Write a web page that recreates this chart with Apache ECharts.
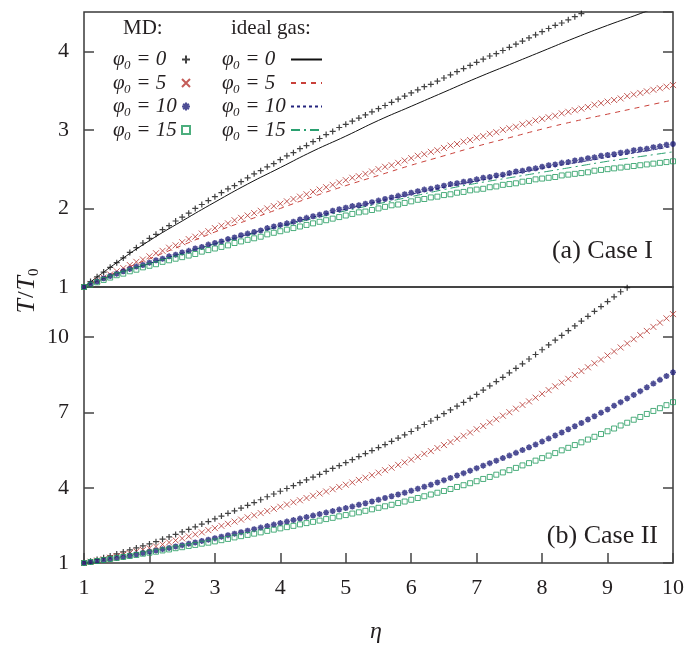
<!DOCTYPE html>
<html>
<head>
<meta charset="utf-8">
<script src="https://cdn.jsdelivr.net/npm/echarts@6.0.0/dist/echarts.min.js"></script>
<style>
  html, body { margin: 0; padding: 0; background: #fff; }
  #chart { width: 687px; height: 645px; }
</style>
</head>
<body>
<div id="chart"></div>
<script>
// eta grid of the MD samples (one point every 0.1)
const etaMD = [
  1.0,1.1,1.2,1.3,1.4,1.5,1.6,1.7,1.8,1.9,
  2.0,2.1,2.2,2.3,2.4,2.5,2.6,2.7,2.8,2.9,
  3.0,3.1,3.2,3.3,3.4,3.5,3.6,3.7,3.8,3.9,
  4.0,4.1,4.2,4.3,4.4,4.5,4.6,4.7,4.8,4.9,
  5.0,5.1,5.2,5.3,5.4,5.5,5.6,5.7,5.8,5.9,
  6.0,6.1,6.2,6.3,6.4,6.5,6.6,6.7,6.8,6.9,
  7.0,7.1,7.2,7.3,7.4,7.5,7.6,7.7,7.8,7.9,
  8.0,8.1,8.2,8.3,8.4,8.5,8.6,8.7,8.8,8.9,
  9.0,9.1,9.2,9.3,9.4,9.5,9.6,9.7,9.8,9.9,
  10.0
];
const etaIdeal = [1,1.5,2,2.5,3,3.5,4,4.5,5,5.5,6,6.5,7,7.5,8,8.5,9,9.5,10];

// (a) Case I, MD
const caseI_md0 = [
  1.00,1.07,1.13,1.19,1.25,1.31,1.37,1.44,1.50,1.56,
  1.62,1.67,1.73,1.78,1.84,1.89,1.94,2.00,2.05,2.10,
  2.15,2.20,2.25,2.29,2.34,2.39,2.44,2.48,2.53,2.57,
  2.62,2.67,2.71,2.76,2.80,2.85,2.89,2.94,2.98,3.03,
  3.07,3.11,3.15,3.19,3.23,3.27,3.31,3.35,3.39,3.43,
  3.47,3.51,3.55,3.58,3.62,3.66,3.70,3.74,3.78,3.82,
  3.86,3.90,3.94,3.97,4.01,4.05,4.09,4.13,4.17,4.21,
  4.25,4.29,4.33,4.36,4.40,4.44,4.48
];
const caseI_md5 = [
  1.00,1.04,1.08,1.12,1.16,1.20,1.24,1.28,1.32,1.35,
  1.39,1.43,1.46,1.50,1.53,1.57,1.61,1.64,1.68,1.71,
  1.75,1.78,1.81,1.85,1.88,1.91,1.94,1.97,2.00,2.03,
  2.06,2.09,2.12,2.15,2.18,2.21,2.24,2.27,2.30,2.33,
  2.36,2.39,2.41,2.44,2.47,2.50,2.53,2.55,2.58,2.61,
  2.64,2.67,2.69,2.72,2.74,2.77,2.80,2.82,2.85,2.87,
  2.90,2.92,2.95,2.97,3.00,3.02,3.04,3.07,3.09,3.12,
  3.14,3.16,3.18,3.21,3.23,3.25,3.27,3.29,3.32,3.34,
  3.36,3.38,3.40,3.43,3.45,3.47,3.49,3.51,3.53,3.55,
  3.57
];
const caseI_md10 = [
  1.00,1.04,1.07,1.11,1.14,1.17,1.20,1.23,1.26,1.28,
  1.31,1.34,1.36,1.39,1.41,1.44,1.46,1.49,1.51,1.54,
  1.56,1.58,1.61,1.63,1.66,1.68,1.70,1.72,1.75,1.77,
  1.79,1.81,1.83,1.86,1.88,1.90,1.92,1.94,1.97,1.99,
  2.01,2.03,2.04,2.06,2.08,2.10,2.12,2.14,2.16,2.18,
  2.20,2.22,2.24,2.25,2.27,2.29,2.31,2.32,2.34,2.35,
  2.37,2.39,2.40,2.42,2.43,2.45,2.47,2.48,2.50,2.51,
  2.53,2.55,2.56,2.58,2.59,2.61,2.62,2.64,2.65,2.67,
  2.68,2.69,2.71,2.72,2.74,2.75,2.76,2.78,2.79,2.81,
  2.82
];
const caseI_md15 = [
  1.00,1.03,1.06,1.09,1.12,1.15,1.17,1.20,1.22,1.25,
  1.27,1.29,1.32,1.34,1.36,1.38,1.40,1.42,1.45,1.47,
  1.49,1.51,1.53,1.56,1.58,1.60,1.62,1.64,1.67,1.69,
  1.71,1.73,1.75,1.77,1.79,1.81,1.83,1.85,1.87,1.89,
  1.91,1.93,1.95,1.96,1.98,2.00,2.02,2.04,2.05,2.07,
  2.09,2.11,2.12,2.14,2.15,2.17,2.18,2.20,2.21,2.23,
  2.24,2.25,2.27,2.28,2.30,2.31,2.32,2.34,2.35,2.37,
  2.38,2.39,2.40,2.42,2.43,2.44,2.45,2.46,2.48,2.49,
  2.50,2.51,2.52,2.53,2.54,2.55,2.56,2.57,2.58,2.59,
  2.60
];

// (a) Case I, ideal gas
const caseI_ig0  = [1.00,1.31,1.59,1.84,2.08,2.31,2.52,2.73,2.92,3.12,3.30,3.48,3.66,3.83,4.00,4.17,4.33,4.48,4.64];
const caseI_ig5  = [1.00,1.19,1.36,1.53,1.70,1.85,2.00,2.15,2.29,2.42,2.55,2.67,2.79,2.90,3.01,3.11,3.20,3.29,3.38];
const caseI_ig10 = [1.00,1.17,1.30,1.43,1.55,1.67,1.78,1.89,1.99,2.09,2.18,2.27,2.35,2.43,2.51,2.58,2.65,2.72,2.79];
const caseI_ig15 = [1.00,1.17,1.30,1.43,1.55,1.66,1.77,1.87,1.97,2.06,2.15,2.24,2.32,2.39,2.46,2.53,2.60,2.66,2.72];

// (b) Case II, MD
const caseII_md0 = [
  1.00,1.07,1.14,1.21,1.28,1.36,1.44,1.52,1.60,1.68,
  1.76,1.85,1.95,2.04,2.14,2.24,2.34,2.44,2.55,2.65,
  2.76,2.87,2.98,3.08,3.19,3.30,3.41,3.52,3.64,3.75,
  3.86,3.97,4.08,4.20,4.31,4.42,4.53,4.65,4.77,4.88,
  5.00,5.12,5.24,5.36,5.48,5.60,5.72,5.85,5.98,6.11,
  6.24,6.38,6.52,6.66,6.80,6.95,7.10,7.25,7.40,7.56,
  7.72,7.89,8.06,8.23,8.40,8.58,8.76,8.94,9.13,9.31,
  9.50,9.69,9.88,10.07,10.26,10.45,10.64,10.83,11.03,11.22,
  11.42,11.61,11.81,11.97
];
const caseII_md5 = [
  1.00,1.05,1.10,1.15,1.21,1.27,1.33,1.39,1.46,1.52,
  1.59,1.66,1.74,1.82,1.90,1.98,2.06,2.14,2.22,2.31,
  2.39,2.48,2.56,2.65,2.73,2.82,2.90,2.99,3.07,3.16,
  3.24,3.33,3.42,3.50,3.59,3.68,3.77,3.85,3.94,4.03,
  4.12,4.21,4.31,4.40,4.50,4.60,4.70,4.80,4.91,5.01,
  5.12,5.23,5.35,5.46,5.58,5.70,5.82,5.95,6.07,6.20,
  6.33,6.46,6.60,6.73,6.87,7.01,7.15,7.30,7.44,7.59,
  7.74,7.89,8.04,8.19,8.34,8.49,8.65,8.80,8.96,9.11,
  9.27,9.43,9.59,9.75,9.92,10.08,10.25,10.41,10.58,10.75,
  10.92
];
const caseII_md10 = [
  1.00,1.04,1.08,1.12,1.16,1.21,1.25,1.30,1.35,1.40,
  1.45,1.50,1.55,1.60,1.66,1.71,1.77,1.82,1.88,1.93,
  1.99,2.05,2.11,2.17,2.23,2.29,2.35,2.41,2.47,2.53,
  2.59,2.65,2.71,2.77,2.83,2.89,2.95,3.01,3.07,3.13,
  3.19,3.25,3.32,3.38,3.45,3.52,3.59,3.66,3.73,3.80,
  3.88,3.96,4.04,4.12,4.21,4.30,4.39,4.49,4.58,4.68,
  4.78,4.88,4.98,5.08,5.18,5.28,5.39,5.50,5.61,5.72,
  5.84,5.96,6.08,6.20,6.33,6.45,6.58,6.72,6.85,6.99,
  7.12,7.27,7.41,7.56,7.70,7.85,8.00,8.15,8.30,8.45,
  8.60
];
const caseII_md15 = [
  1.00,1.04,1.08,1.12,1.16,1.20,1.24,1.28,1.32,1.37,
  1.41,1.45,1.50,1.54,1.59,1.63,1.68,1.72,1.77,1.81,
  1.86,1.91,1.96,2.02,2.07,2.12,2.17,2.22,2.28,2.33,
  2.38,2.43,2.48,2.54,2.59,2.64,2.69,2.75,2.80,2.86,
  2.91,2.97,3.02,3.08,3.14,3.20,3.26,3.32,3.39,3.45,
  3.52,3.59,3.66,3.73,3.80,3.87,3.95,4.03,4.10,4.18,
  4.26,4.35,4.43,4.52,4.61,4.70,4.79,4.89,4.98,5.08,
  5.18,5.28,5.38,5.49,5.59,5.70,5.81,5.92,6.03,6.14,
  6.25,6.36,6.48,6.59,6.71,6.82,6.94,7.06,7.17,7.29,
  7.41
];

const phiValues = ['0', '5', '10', '15'];
const xTicks = [1, 10, 1];
const yTicksA = [1, 4.5, 1];
const yTicksB = [1, 12, 3];

const pair = (xs, ys) => ys.map((y, i) => [xs[i], y]);

const SERIF = '"Liberation Serif", "DejaVu Serif", serif';
const INK = '#231f20';

const plus = 'path://M0,5L10,5M5,0L5,10';
const cross = 'path://M1,1L9,9M9,1L1,9';
const star = 'path://M0,5L10,5M5,0L5,10M1.5,1.5L8.5,8.5M8.5,1.5L1.5,8.5';

const mdStyle = {
  md0:  { symbol: plus,  symbolSize: 6, itemStyle: { color: 'rgba(0,0,0,0)', borderColor: '#111', borderWidth: 1.2 } },
  md5:  { symbol: cross, symbolSize: 6, itemStyle: { color: 'rgba(0,0,0,0)', borderColor: '#b5332e', borderWidth: 1 } },
  md10: { symbol: star,  symbolSize: 6, itemStyle: { color: 'rgba(0,0,0,0)', borderColor: '#22227a', borderWidth: 1.6 } },
  md15: { symbol: 'rect', symbolSize: 5, itemStyle: { color: 'rgba(0,0,0,0)', borderColor: '#1f9a5c', borderWidth: 1 } }
};
const igStyle = {
  ig0:  { color: '#111', width: 1, type: 'solid' },
  ig5:  { color: '#c9413a', width: 1, type: [5, 5] },
  ig10: { color: '#24247e', width: 1, type: [3, 3] },
  ig15: { color: '#2aa070', width: 1, type: [9, 4, 2, 4] }
};

function mdSeries(name, data, axis) {
  return Object.assign({
    name: name, type: 'scatter', data: pair(etaMD, data),
    xAxisIndex: axis, yAxisIndex: axis * 2, silent: true, z: 3
  }, mdStyle[name]);
}
function igSeries(name, data) {
  return {
    name: name, type: 'line', data: pair(etaIdeal, data), smooth: true,
    symbol: 'none', showSymbol: false, xAxisIndex: 0, yAxisIndex: 0,
    lineStyle: igStyle[name], itemStyle: { color: igStyle[name].color }, silent: true, z: 2
  };
}

const legendRich = {
  p: { fontFamily: SERIF, fontStyle: 'italic', fontSize: 21, color: INK, width: 11, align: 'left', lineHeight: 26, verticalAlign: 'middle' },
  s: { fontFamily: SERIF, fontStyle: 'italic', fontSize: 13, color: INK, width: 7, align: 'left', lineHeight: 26, verticalAlign: 'bottom' },
  v: { fontFamily: SERIF, fontStyle: 'italic', fontSize: 21, color: INK, width: 46, align: 'left', lineHeight: 26, verticalAlign: 'middle' }
};
const legendFormatter = name => {
  const v = name.replace(/^(md|ig)/, '');
  return '{p|\u03c6}{s|0}{v| = ' + v + '}';
};

function yAxis(grid, t, pos) {
  const left = pos === 'left';
  return {
    type: 'value', gridIndex: grid, position: pos, min: t[0], max: t[1], interval: t[2],
    axisLine: { show: false },
    axisTick: { show: true, inside: true, length: 10, lineStyle: { color: '#444', width: 1.5 } },
    axisLabel: { show: left, showMaxLabel: false, margin: 15, fontFamily: SERIF, fontSize: 22, color: INK },
    splitLine: { show: false }
  };
}

const chart = echarts.init(document.getElementById('chart'), null, { renderer: 'canvas' });
chart.setOption({
  animation: false,
  backgroundColor: '#fff',
  grid: [
    { left: 84, top: 12, width: 589, height: 275, show: true, borderColor: '#3a3a3a', borderWidth: 1.5 },
    { left: 84, top: 287, width: 589, height: 276, show: true, borderColor: '#3a3a3a', borderWidth: 1.5 }
  ],
  xAxis: [
    { type: 'value', gridIndex: 0, min: xTicks[0], max: xTicks[1], interval: xTicks[2],
      axisLine: { show: false }, axisTick: { show: false }, axisLabel: { show: false }, splitLine: { show: false } },
    { type: 'value', gridIndex: 1, min: xTicks[0], max: xTicks[1], interval: xTicks[2],
      axisLine: { show: false },
      axisTick: { show: true, inside: true, length: 10, lineStyle: { color: '#444', width: 1.5 } },
      axisLabel: { margin: 14, fontFamily: SERIF, fontSize: 22, color: INK },
      splitLine: { show: false } }
  ],
  yAxis: [
    yAxis(0, yTicksA, 'left'), yAxis(0, yTicksA, 'right'),
    yAxis(1, yTicksB, 'left'), yAxis(1, yTicksB, 'right')
  ],
  legend: [
    { data: phiValues.map(v => 'md' + v), orient: 'vertical', left: 108, top: 44,
      align: 'right', itemWidth: 8, itemHeight: 8, itemGap: 0, selectedMode: false,
      formatter: legendFormatter, textStyle: { rich: legendRich } },
    { data: phiValues.map(v => 'ig' + v), orient: 'vertical', left: 217, top: 44,
      align: 'right', itemWidth: 31, itemHeight: 9, itemGap: 0, selectedMode: false,
      itemStyle: { opacity: 0, borderWidth: 0 },
      formatter: legendFormatter, textStyle: { rich: legendRich } }
  ],
  graphic: [
    { type: 'text', left: 123, top: 18, style: { text: 'MD:', font: '21px ' + SERIF, fill: INK } },
    { type: 'text', left: 231, top: 18, style: { text: 'ideal gas:', font: '21px ' + SERIF, fill: INK } },
    { type: 'text', right: 34, top: 238, style: { text: '(a) Case I', font: '26px ' + SERIF, fill: INK } },
    { type: 'text', right: 29, top: 523, style: { text: '(b) Case II', font: '26px ' + SERIF, fill: INK } },
    { type: 'text', left: 370, top: 620, style: { text: '\u03b7', font: 'italic 24px ' + SERIF, fill: INK } },
    { type: 'text', x: 27, y: 291, rotation: Math.PI / 2,
      style: {
        text: '{i|T}{n|/}{i|T}{s|0}', align: 'center', verticalAlign: 'middle',
        rich: {
          i: { fontFamily: SERIF, fontStyle: 'italic', fontSize: 26, fill: INK, lineHeight: 30, verticalAlign: 'middle' },
          n: { fontFamily: SERIF, fontSize: 24, fill: INK, lineHeight: 30, verticalAlign: 'middle', padding: [0, 1, 0, 1] },
          s: { fontFamily: SERIF, fontSize: 15, fill: INK, lineHeight: 30, verticalAlign: 'bottom' }
        }
      } }
  ],
  series: [
    igSeries('ig0', caseI_ig0),
    igSeries('ig5', caseI_ig5),
    igSeries('ig10', caseI_ig10),
    igSeries('ig15', caseI_ig15),
    mdSeries('md0', caseI_md0, 0),
    mdSeries('md5', caseI_md5, 0),
    mdSeries('md10', caseI_md10, 0),
    mdSeries('md15', caseI_md15, 0),
    mdSeries('md0', caseII_md0, 1),
    mdSeries('md5', caseII_md5, 1),
    mdSeries('md10', caseII_md10, 1),
    mdSeries('md15', caseII_md15, 1)
  ]
});
</script>
</body>
</html>
